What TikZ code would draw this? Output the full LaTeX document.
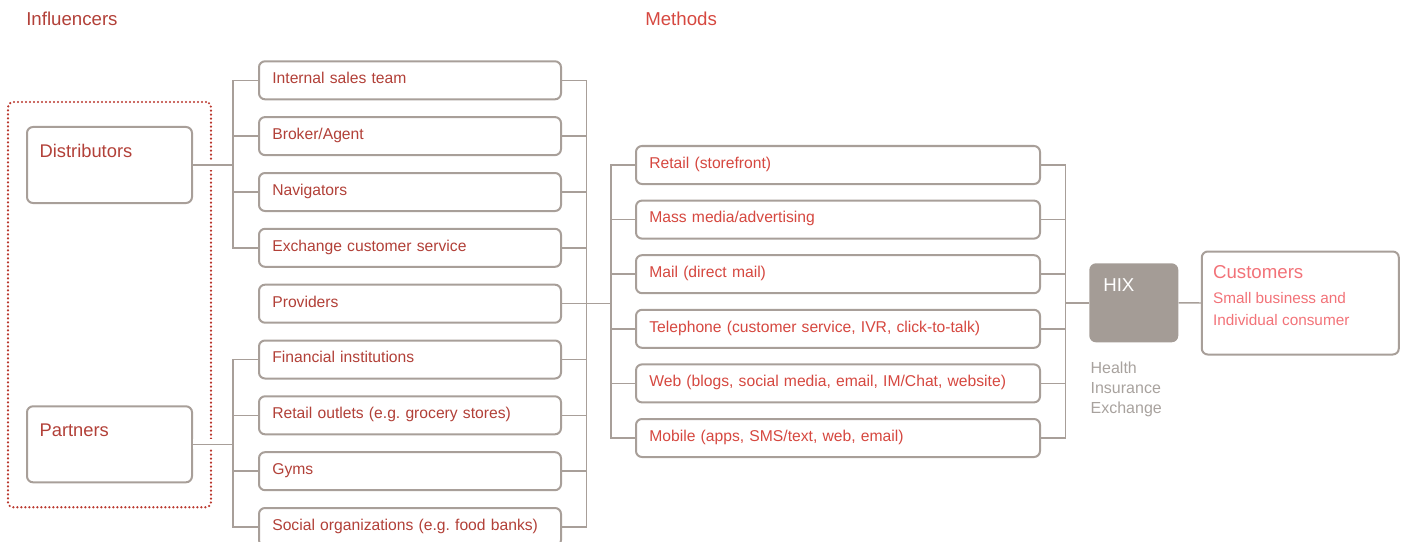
\documentclass[tikz,border=0pt]{standalone}
\usepackage{fontspec}
\setmainfont{Liberation Sans}
\usetikzlibrary{positioning,fit}
\frenchspacing

\definecolor{infred}{RGB}{178,64,56}
\definecolor{methred}{RGB}{214,72,64}
\definecolor{custpink}{RGB}{242,114,120}
\definecolor{boxgray}{RGB}{168,159,153}
\definecolor{hixgray}{RGB}{164,156,150}
\definecolor{notegray}{RGB}{168,162,158}
\definecolor{framered}{RGB}{186,56,46}

\tikzset{
	itembox/.style={draw=boxgray, line width=1.5pt, rounded corners=4.5pt, fill=white,
		minimum height=28.5pt, inner xsep=10pt, inner ysep=0pt, align=left,
		text height=7.5pt, text depth=2.5pt, font=\fontsize{11.75}{14}\selectfont},
	infitem/.style={itembox, text width=206.5pt, text=infred},
	methitem/.style={itembox, text width=283pt, text=methred},
	groupbox/.style={draw=boxgray, line width=1.5pt, rounded corners=4.5pt,
		minimum width=123.75pt, minimum height=57pt},
	grouptext/.style={inner sep=0pt, font=\fontsize{13.75}{16}\selectfont, text=infred},
	headtext/.style={inner sep=0pt, anchor=west, font=\fontsize{14}{17}\selectfont},
	link/.style={draw=boxgray, line width=1.1pt},
	gaplink/.style={link, preaction={draw=white, line width=7.5pt, shorten >=12pt}},
	dotframe/.style={draw=framered, line width=1.8pt, line cap=round,
		dash pattern=on 0pt off 3pt, rounded corners=3.75pt},
	notetext/.style={inner sep=0pt, align=left, text=notegray, font=\fontsize{12}{15}\selectfont},
}

\begin{document}
\begin{tikzpicture}[x=0.75pt,y=-0.75pt]
	\useasboundingbox (0,0) rectangle (1404,542);
	
	% headings
	\node[headtext, text=infred] (hinf) at (26,19.3) {Influencers};
	\node[headtext, text=methred] (hmeth) at (645,19.3) {Methods};
	
	% influencer groups
	\node[groupbox] (dist) at (109.5,165) {};
	\node[groupbox] (part) at (109.5,444.3) {};
	\node[grouptext, below right=13.5pt and 10pt of dist.north west] (distlabel) {Distributors};
	\node[grouptext, below right=13.5pt and 10pt of part.north west] (partlabel) {Partners};
	\node[dotframe, fit=(dist)(part), inner xsep=13.5pt, inner ysep=18pt] (infl) {};
	
	% distributors and partners
	\node[infitem] (isales) at (410,80.3) {Internal sales team};
	\node[infitem] (broker) at (410,136.1) {Broker/Agent};
	\node[infitem] (navig) at (410,192) {Navigators};
	\node[infitem] (exch) at (410,247.8) {Exchange customer service};
	\node[infitem] (prov) at (410,303.7) {Providers};
	\node[infitem] (fin) at (410,359.5) {Financial institutions};
	\node[infitem] (outlet) at (410,415.3) {Retail outlets (e.g. grocery stores)};
	\node[infitem] (gyms) at (410,471.2) {Gyms};
	\node[infitem] (social) at (410,527) {Social organizations (e.g. food banks)};
	
	% methods
	\node[methitem] (store) at (838,165) {Retail (storefront)};
	\node[methitem] (media) at (838,219.6) {Mass media/advertising};
	\node[methitem] (mail) at (838,274.2) {Mail (direct mail)};
	\node[methitem] (phone) at (838,328.8) {Telephone (customer service, IVR, click-to-talk)};
	\node[methitem] (web) at (838,383.4) {Web (blogs, social media, email, IM/Chat, website)};
	\node[methitem] (mobile) at (838,438) {Mobile (apps, SMS/text, web, email)};
	
	% exchange and customers
	\node[fill=hixgray, rounded corners=5pt, minimum width=66.75pt, minimum height=59.25pt] (hix) at (1133.8,302.8) {};
	\node[inner sep=0pt, text=white, font=\fontsize{14}{17}\selectfont, below right=11.25pt and 10.5pt of hix.north west] (hixlabel) {HIX};
	\node[notetext, below right=14.5pt and 1pt of hix.south west] (hixnote) {Health\\Insurance\\Exchange};
	\node[draw=boxgray, line width=1.5pt, rounded corners=4.5pt, minimum width=147.75pt, minimum height=77.25pt] (cust) at (1300.3,303) {};
	\node[inner sep=0pt, text=custpink, font=\fontsize{14}{17}\selectfont, below right=10.7pt and 9pt of cust.north west] (custlabel) {Customers};
	\node[inner sep=0pt, align=left, text=custpink, font=\fontsize{11.5}{16.5}\selectfont, below right=31.2pt and 9pt of cust.north west] (custnote) {Small business and\\Individual consumer};
	
	% bus lines
	\coordinate (lbus) at (233,0);
	\coordinate (rbus) at (586.5,0);
	\coordinate (mlbus) at (611,0);
	\coordinate (mrbus) at (1065.5,0);
	
	% distributors to their channels
	\draw[gaplink] (dist.east) -- (dist.east -| lbus);
	\draw[link] (isales.west) -- (isales.west -| lbus) -- (exch.west -| lbus) -- (exch.west);
	\draw[link] (broker.west) -- (broker.west -| lbus);
	\draw[link] (navig.west) -- (navig.west -| lbus);
	
	% partners to their channels
	\draw[gaplink] (part.east) -- (part.east -| lbus);
	\draw[link] (fin.west) -- (fin.west -| lbus) -- (social.west -| lbus) -- (social.west);
	\draw[link] (outlet.west) -- (outlet.west -| lbus);
	\draw[link] (gyms.west) -- (gyms.west -| lbus);
	
	% channels to methods
	\draw[link] (isales.east) -- (isales.east -| rbus) -- (social.east -| rbus) -- (social.east);
	\draw[link] (broker.east) -- (broker.east -| rbus);
	\draw[link] (navig.east) -- (navig.east -| rbus);
	\draw[link] (exch.east) -- (exch.east -| rbus);
	\draw[link] (fin.east) -- (fin.east -| rbus);
	\draw[link] (outlet.east) -- (outlet.east -| rbus);
	\draw[link] (gyms.east) -- (gyms.east -| rbus);
	\draw[link] (prov.east) -- (prov.east -| mlbus);
	
	\draw[link] (store.west) -- (store.west -| mlbus) -- (mobile.west -| mlbus) -- (mobile.west);
	\draw[link] (media.west) -- (media.west -| mlbus);
	\draw[link] (mail.west) -- (mail.west -| mlbus);
	\draw[link] (phone.west) -- (phone.west -| mlbus);
	\draw[link] (web.west) -- (web.west -| mlbus);
	
	% methods to exchange
	\draw[link] (store.east) -- (store.east -| mrbus) -- (mobile.east -| mrbus) -- (mobile.east);
	\draw[link] (media.east) -- (media.east -| mrbus);
	\draw[link] (mail.east) -- (mail.east -| mrbus);
	\draw[link] (phone.east) -- (phone.east -| mrbus);
	\draw[link] (web.east) -- (web.east -| mrbus);
	\draw[link] (hix.west -| mrbus) -- (hix.west);
	\draw[link] (hix.east) -- (cust.west);
	
\end{tikzpicture}
\end{document}
